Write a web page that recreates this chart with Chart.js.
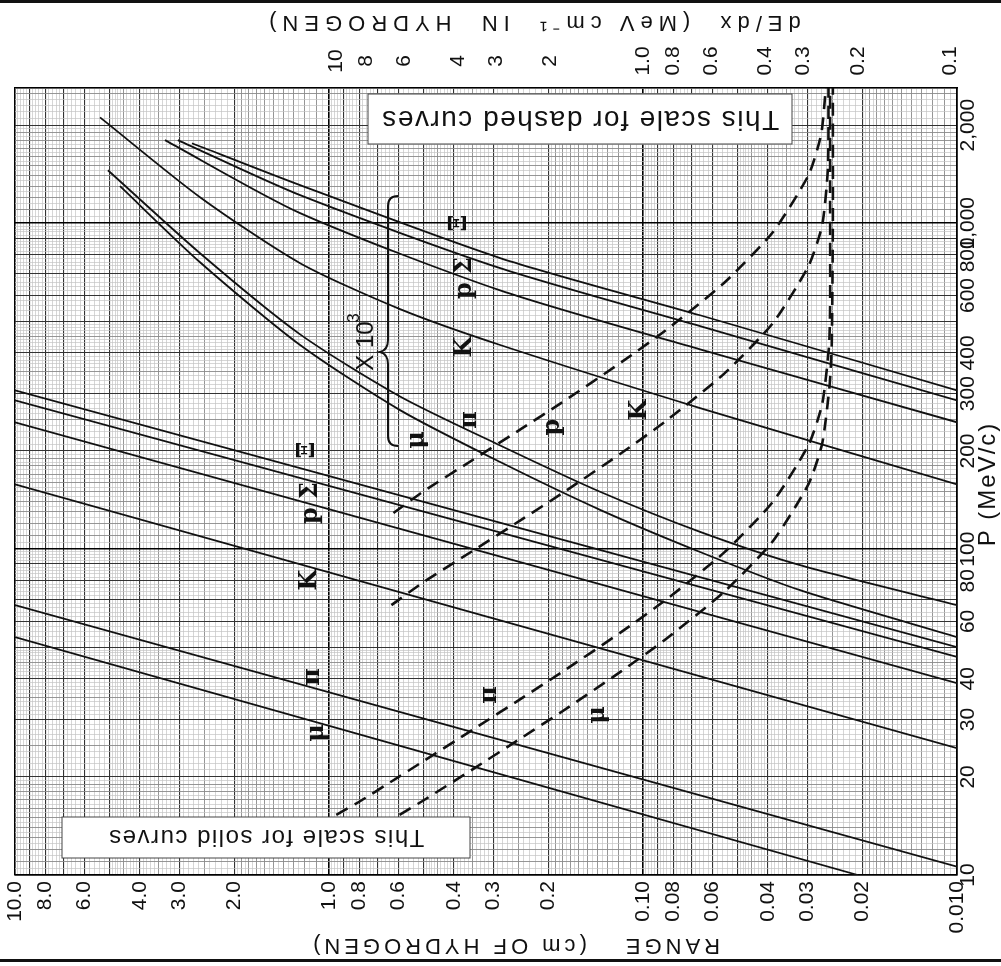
<!DOCTYPE html>
<html lang="en">
<head>
<meta charset="UTF-8" />
<title>Range and dE/dx in hydrogen vs momentum</title>
<script src="https://cdn.jsdelivr.net/npm/chart.js@4.4.1/dist/chart.umd.min.js"></script>
<style>
  html, body { margin: 0; padding: 0; background: #fff; }
  #wrap { width: 1001px; height: 966px; }
</style>
</head>
<body>
<div id="wrap"><canvas id="rangeChart" width="1001" height="966"></canvas></div>
<script>
// ---- scales ----
const rangeTicks = [10, 8, 6, 4, 3, 2, 1, 0.8, 0.6, 0.4, 0.3, 0.2, 0.1, 0.08, 0.06, 0.04, 0.03, 0.02, 0.01];
const rangeTickText = ['10.0', '8.0', '6.0', '4.0', '3.0', '2.0', '1.0', '0.8', '0.6', '0.4', '0.3', '0.2', '0.10', '0.08', '0.06', '0.04', '0.03', '0.02', '0.010'];
const momentumTicks = [10, 20, 30, 40, 60, 80, 100, 200, 300, 400, 600, 800, 1000, 2000];
const momentumTickText = ['10', '20', '30', '40', '60', '80', '100', '200', '300', '400', '600', '800', '1,000', '2,000'];
const dedxTicks = [10, 8, 6, 4, 3, 2, 1, 0.8, 0.6, 0.4, 0.3, 0.2, 0.1];
const dedxTickText = ['10', '8', '6', '4', '3', '2', '1.0', '0.8', '0.6', '0.4', '0.3', '0.2', '0.1'];

// ---- solid curves, range in cm (bottom scale) ----
const muLowR = [10, 0.0207];
const muLowP = [53.7, 10];
const piLowR = [10, 0.01];
const piLowP = [67.3, 10.6];
const kLowR = [10, 0.01];
const kLowP = [158, 24.5];
const pLowR = [10, 0.01];
const pLowP = [245, 38.8];
const sigLowR = [10, 0.01];
const sigLowP = [286, 46.7];
const xiLowR = [10, 0.01];
const xiLowP = [307, 50.0];

// ---- solid curves, range in units of 10^3 cm ----
const muHighR = [4.63, 2.575, 1.236, 0.594, 0.285, 0.137, 0.0658, 0.0316, 0.01];
const muHighP = [1299, 759, 423, 267, 185, 132, 98.0, 74.8, 53.7];
const piHighR = [5.06, 2.575, 1.236, 0.594, 0.285, 0.137, 0.0658, 0.0316, 0.01];
const piHighP = [1454, 809, 456, 294, 208, 150, 113, 89.3, 67.3];
const kHighR = [5.36, 2.575, 1.236, 0.594, 0.285, 0.0658, 0.01];
const kHighP = [2113, 1202, 754, 545, 423, 271, 158];
const pHighR = [3.33, 1.236, 0.285, 0.0658, 0.01];
const pHighP = [1799, 1074, 622, 410, 245];
const sigHighR = [3.03, 1.236, 0.285, 0.0658, 0.01];
const sigHighP = [1799, 1219, 728, 483, 286];
const xiHighR = [2.73, 1.236, 0.285, 0.0658, 0.01];
const xiHighP = [1760, 1309, 782, 522, 307];

// ---- dashed curves, dE/dx in MeV/cm (top scale) ----
const muDedx = [6.21, 5.21, 3.59, 2.48, 1.84, 1.173, 0.844, 0.544, 0.378, 0.289, 0.261, 0.247, 0.243, 0.241, 0.241];
const muDedxP = [15.3, 16.9, 21.1, 26.4, 31.7, 42.3, 52.9, 74.0, 105.7, 158.6, 211, 317, 423, 1000, 2600];
const piDedx = [9.98, 8.43, 6.52, 5.21, 3.59, 2.48, 1.84, 1.173, 0.844, 0.544, 0.378, 0.289, 0.261, 0.248, 0.246, 0.246, 0.246];
const piDedxP = [15.3, 16.75, 19.5, 22.3, 27.9, 34.9, 41.9, 55.8, 69.8, 97.7, 139.6, 209, 279, 419, 558, 1200, 2600];
const kDedx = [6.6, 5.21, 3.59, 2.48, 1.84, 1.173, 0.844, 0.544, 0.378, 0.289, 0.261, 0.250, 0.249];
const kDedxP = [67.3, 79.0, 98.7, 123.4, 148.1, 197.5, 246.9, 345.6, 493.7, 740.6, 987.4, 1481, 2600];
const pDedx = [6.5, 5.21, 3.59, 2.48, 1.84, 1.173, 0.844, 0.544, 0.378, 0.289, 0.263, 0.254];
const pDedxP = [129, 150.1, 187.7, 234.6, 281.5, 375.3, 469.2, 656.8, 938.3, 1407, 1877, 2600];

function pairs(xs, ys) {
  return xs.map((x, i) => ({ x: x, y: ys[i] }));
}

const solid = { borderColor: '#111', borderWidth: 1.8, pointRadius: 0, tension: 0.25, fill: false };
const dashed = { borderColor: '#111', borderWidth: 2.6, borderDash: [13, 8], pointRadius: 0, tension: 0.2, fill: false, xAxisID: 'x2' };

const datasets = [
  { label: 'μ', data: pairs(muLowR, muLowP), ...solid },
  { label: 'π', data: pairs(piLowR, piLowP), ...solid },
  { label: 'K', data: pairs(kLowR, kLowP), ...solid },
  { label: 'p', data: pairs(pLowR, pLowP), ...solid },
  { label: 'Σ', data: pairs(sigLowR, sigLowP), ...solid },
  { label: 'Ξ', data: pairs(xiLowR, xiLowP), ...solid },
  { label: 'μ ×10³', data: pairs(muHighR, muHighP), ...solid },
  { label: 'π ×10³', data: pairs(piHighR, piHighP), ...solid },
  { label: 'K ×10³', data: pairs(kHighR, kHighP), ...solid },
  { label: 'p ×10³', data: pairs(pHighR, pHighP), ...solid },
  { label: 'Σ ×10³', data: pairs(sigHighR, sigHighP), ...solid },
  { label: 'Ξ ×10³', data: pairs(xiHighR, xiHighP), ...solid },
  { label: 'μ dE/dx', data: pairs(muDedx, muDedxP), ...dashed },
  { label: 'π dE/dx', data: pairs(piDedx, piDedxP), ...dashed },
  { label: 'K dE/dx', data: pairs(kDedx, kDedxP), ...dashed },
  { label: 'p dE/dx', data: pairs(pDedx, pDedxP), ...dashed }
];

// log graph paper rulings
function paperTicks(min, max) {
  const out = [];
  for (let e = Math.floor(Math.log10(min)); e < Math.ceil(Math.log10(max)); e++) {
    const d = Math.pow(10, e);
    let m = 1;
    while (m < 9.999) {
      const v = m * d;
      if (v >= min * 0.999 && v <= max * 1.001) out.push({ value: v });
      m = Math.round((m + (m < 2 ? 0.05 : m < 5 ? 0.1 : 0.2)) * 100) / 100;
    }
  }
  out.push({ value: max });
  return out;
}
function paperLevel(v) {
  const e = Math.floor(Math.log10(v) + 1e-9);
  const m = Math.round(v / Math.pow(10, e) * 100) / 100;
  if (m === 1 || m === 10) return 3;
  if (Number.isInteger(m)) return 2;
  if (m < 2 ? Math.abs(m * 10 - Math.round(m * 10)) < 1e-6 : m < 5 ? Math.abs(m * 2 - Math.round(m * 2)) < 1e-6 : false) return 1;
  return 0;
}
const gridColor = ctx => ['#c4c4c4', '#8a8a8a', '#333', '#000'][paperLevel(ctx.tick.value)];
const gridWidth = ctx => [0.7, 0.9, 1.1, 1.6][paperLevel(ctx.tick.value)];

function rotText(ctx, text, x, y, angle, align, font) {
  ctx.save();
  ctx.translate(x, y);
  ctx.rotate(angle);
  ctx.font = font;
  ctx.textAlign = align;
  ctx.textBaseline = 'middle';
  ctx.fillText(text, 0, 0);
  ctx.restore();
}

const UP = -Math.PI / 2;
const FLIP = Math.PI;
const SANS = '"Liberation Sans", Arial, sans-serif';

const boxPlugin = {
  id: 'boxes',
  beforeDatasetsDraw(chart) {
    const ctx = chart.ctx;
    ctx.save();
    ctx.fillStyle = '#fff';
    ctx.strokeStyle = '#444';
    ctx.lineWidth = 1;
    ctx.fillRect(368, 94, 424, 50);
    ctx.strokeRect(368, 94, 424, 50);
    ctx.fillRect(62, 817, 408, 41);
    ctx.strokeRect(62, 817, 408, 41);
    ctx.restore();
  }
};

const textPlugin = {
  id: 'texts',
  afterDraw(chart) {
    const ctx = chart.ctx;
    const a = chart.chartArea;
    const sx = chart.scales.x, sy = chart.scales.y, st = chart.scales.x2;
    const tickFont = '21px ' + SANS;
    ctx.fillStyle = '#111';

    rangeTicks.forEach((v, i) => rotText(ctx, rangeTickText[i], sx.getPixelForValue(v), a.bottom + 6, UP, 'right', tickFont));
    momentumTicks.forEach((v, i) => rotText(ctx, momentumTickText[i], a.right + 11, sy.getPixelForValue(v), UP, 'center', tickFont));
    dedxTicks.forEach((v, i) => rotText(ctx, dedxTickText[i], st.getPixelForValue(v), a.top - 27, UP, 'center', tickFont));

    // axis titles
    ctx.save();
    ctx.letterSpacing = '4px';
    rotText(ctx, 'RANGE', 671, 945, FLIP, 'center', '22px ' + SANS);
    rotText(ctx, '(cm OF HYDROGEN)', 448, 945, FLIP, 'center', '22px ' + SANS);
    ctx.letterSpacing = '6px';
    rotText(ctx, 'dE/dx  (MeV cm⁻¹  IN  HYDROGEN)', 532, 22, FLIP, 'center', '22px ' + SANS);
    ctx.letterSpacing = '2px';
    rotText(ctx, 'P (MeV/c)', 988, 484, UP, 'center', '24px ' + SANS);
    // scale notes
    ctx.letterSpacing = '1.5px';
    rotText(ctx, 'This scale for dashed curves', 580, 119, FLIP, 'center', '28px ' + SANS);
    rotText(ctx, 'This scale for solid curves', 266, 837, FLIP, 'center', '24px ' + SANS);
    ctx.restore();

    // particle labels
    const lab = 'bold 24px "DejaVu Serif", serif';
    [['Ξ', 308, 450], ['p Σ', 311, 503], ['K', 310, 580], ['π', 313, 677], ['μ', 317, 733],
     ['Ξ', 460, 223], ['p Σ', 465, 278], ['K', 465, 347], ['π', 470, 420], ['μ', 417, 440],
     ['π', 490, 695], ['μ', 598, 715], ['K', 640, 410], ['p', 553, 427]]
      .forEach(l => rotText(ctx, l[0], l[1], l[2], UP, 'center', lab));

    // x 10^3 bracket
    rotText(ctx, 'X 10', 366, 346, UP, 'center', '24px ' + SANS);
    rotText(ctx, '3', 354, 318, UP, 'center', '17px ' + SANS);
    ctx.save();
    ctx.strokeStyle = '#111';
    ctx.lineWidth = 2;
    ctx.beginPath();
    ctx.moveTo(398, 196);
    ctx.quadraticCurveTo(388, 196, 388, 206);
    ctx.lineTo(388, 340);
    ctx.quadraticCurveTo(388, 350, 380, 352);
    ctx.quadraticCurveTo(388, 354, 388, 364);
    ctx.lineTo(388, 436);
    ctx.quadraticCurveTo(388, 446, 398, 446);
    ctx.stroke();
    ctx.restore();

    // outer rules
    ctx.save();
    ctx.fillStyle = '#111';
    ctx.fillRect(0, 0, 1001, 3);
    ctx.fillRect(0, 959, 1001, 3);
    ctx.restore();
  }
};

const paperGrid = { color: gridColor, lineWidth: gridWidth, drawTicks: false };

new Chart(document.getElementById('rangeChart'), {
  type: 'line',
  data: { datasets: datasets },
  options: {
    responsive: false,
    animation: false,
    layout: { padding: { left: 15, right: 44, top: 88, bottom: 91 } },
    plugins: { legend: { display: false }, tooltip: { enabled: false } },
    scales: {
      x: {
        type: 'logarithmic', position: 'bottom', reverse: true, min: 0.01, max: 10,
        ticks: { display: false }, grid: paperGrid, border: { color: '#000', width: 1.5 },
        afterBuildTicks: s => { s.ticks = paperTicks(0.01, 10); }
      },
      y: {
        type: 'logarithmic', position: 'right', min: 10, max: 2600,
        ticks: { display: false }, grid: paperGrid, border: { color: '#000', width: 1.5 },
        afterBuildTicks: s => { s.ticks = paperTicks(10, 2600); }
      },
      x2: {
        type: 'logarithmic', position: 'top', reverse: true, min: 0.095, max: 111,
        ticks: { display: false }, grid: { display: false, drawTicks: false }, border: { color: '#000', width: 1.5 }
      }
    }
  },
  plugins: [boxPlugin, textPlugin]
});
</script>
</body>
</html>
